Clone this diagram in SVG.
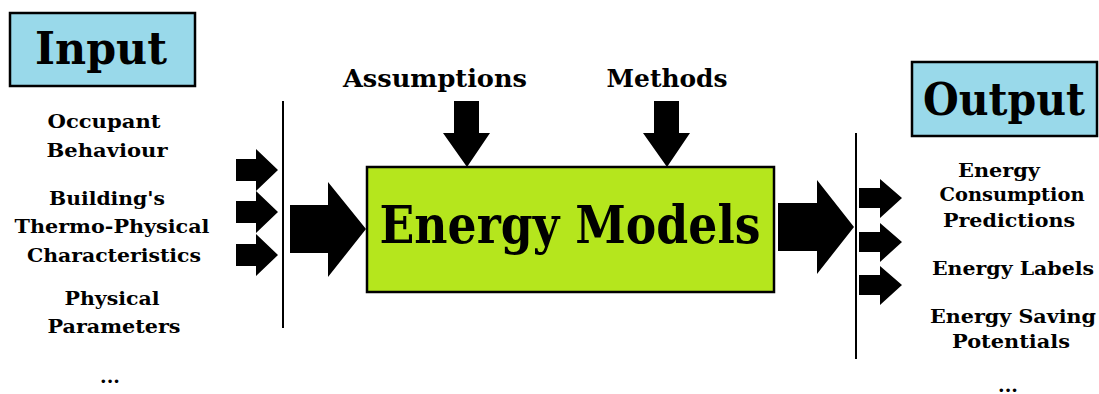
<svg xmlns="http://www.w3.org/2000/svg" width="1099" height="394" viewBox="0 0 1099 394">
<style>
text{font-family:"DejaVu Serif","Liberation Serif",serif;font-weight:bold;fill:#000;text-anchor:middle}
.lbl{font-size:19px}
.hdr{font-size:44px}
.blue{fill:#99d9ea;stroke:#000;stroke-width:2.5}
.ln{stroke:#000;stroke-width:2;fill:none}
.arr{fill:#000}
</style>
<rect width="1099" height="394" fill="#fff"/>
<g id="input">
<rect class="blue" x="10" y="13" width="185" height="73"/>
<text class="hdr" x="101" y="64" textLength="132" lengthAdjust="spacingAndGlyphs">Input</text>
</g>
<g id="inputs">
<text class="lbl" x="104" y="128" textLength="113" lengthAdjust="spacingAndGlyphs">Occupant</text>
<text class="lbl" x="107" y="157" textLength="121" lengthAdjust="spacingAndGlyphs">Behaviour</text>
<text class="lbl" x="107" y="205" textLength="116" lengthAdjust="spacingAndGlyphs">Building's</text>
<text class="lbl" x="112" y="233" textLength="195" lengthAdjust="spacingAndGlyphs">Thermo-Physical</text>
<text class="lbl" x="114" y="262" textLength="174" lengthAdjust="spacingAndGlyphs">Characteristics</text>
<text class="lbl" x="112" y="305" textLength="95" lengthAdjust="spacingAndGlyphs">Physical</text>
<text class="lbl" x="114" y="333" textLength="133" lengthAdjust="spacingAndGlyphs">Parameters</text>
<text class="lbl" x="110" y="383">...</text>
</g>
<g id="assumptions">
<text class="lbl" x="435" y="87" font-size="24" textLength="184" lengthAdjust="spacingAndGlyphs" style="font-size:24px">Assumptions</text>
</g>
<g id="methods">
<text class="lbl" x="667" y="87" textLength="121" lengthAdjust="spacingAndGlyphs" style="font-size:24px">Methods</text>
</g>
<g id="energy-models">
<rect x="367" y="167" width="407" height="125" fill="#b5e61d" stroke="#000" stroke-width="2.5"/>
<text x="570" y="243" style="font-size:52px" textLength="381" lengthAdjust="spacingAndGlyphs">Energy Models</text>
</g>
<g id="output">
<rect class="blue" x="912" y="62" width="185" height="74"/>
<text class="hdr" x="1004" y="115" textLength="162" lengthAdjust="spacingAndGlyphs">Output</text>
</g>
<g id="outputs">
<text class="lbl" x="999" y="177" textLength="82" lengthAdjust="spacingAndGlyphs">Energy</text>
<text class="lbl" x="1012" y="201" textLength="145" lengthAdjust="spacingAndGlyphs">Consumption</text>
<text class="lbl" x="1009" y="227" textLength="132" lengthAdjust="spacingAndGlyphs">Predictions</text>
<text class="lbl" x="1013" y="275" textLength="162" lengthAdjust="spacingAndGlyphs">Energy Labels</text>
<text class="lbl" x="1013" y="323" textLength="166" lengthAdjust="spacingAndGlyphs">Energy Saving</text>
<text class="lbl" x="1011" y="348" textLength="118" lengthAdjust="spacingAndGlyphs">Potentials</text>
<text class="lbl" x="1008" y="392">...</text>
</g>
<g id="connectors">
<line class="ln" x1="283" y1="101" x2="283" y2="328"/>
<line class="ln" x1="856" y1="133" x2="856" y2="359"/>
<polygon class="arr" points="236,159 256,159 256,149 278,170 256,191 256,181 236,181"/>
<polygon class="arr" points="236,201 256,201 256,191 278,212 256,233 256,223 236,223"/>
<polygon class="arr" points="236,244 256,244 256,234 278,255 256,276 256,266 236,266"/>
<polygon class="arr" points="290,205 328,205 328,182 366,229 328,277 328,253 290,253"/>
<polygon class="arr" points="454,101 479,101 479,133 490,133 467,167 443,133 454,133"/>
<polygon class="arr" points="654,101 679,101 679,133 690,133 667,167 643,133 654,133"/>
<polygon class="arr" points="778,203 817,203 817,180 854,227 817,274 817,251 778,251"/>
<polygon class="arr" points="859,188 880,188 880,179 902,198 880,218 880,208 859,208"/>
<polygon class="arr" points="859,232 880,232 880,223 902,242 880,262 880,252 859,252"/>
<polygon class="arr" points="859,275 880,275 880,266 902,285 880,305 880,295 859,295"/>
</g>
</svg>
